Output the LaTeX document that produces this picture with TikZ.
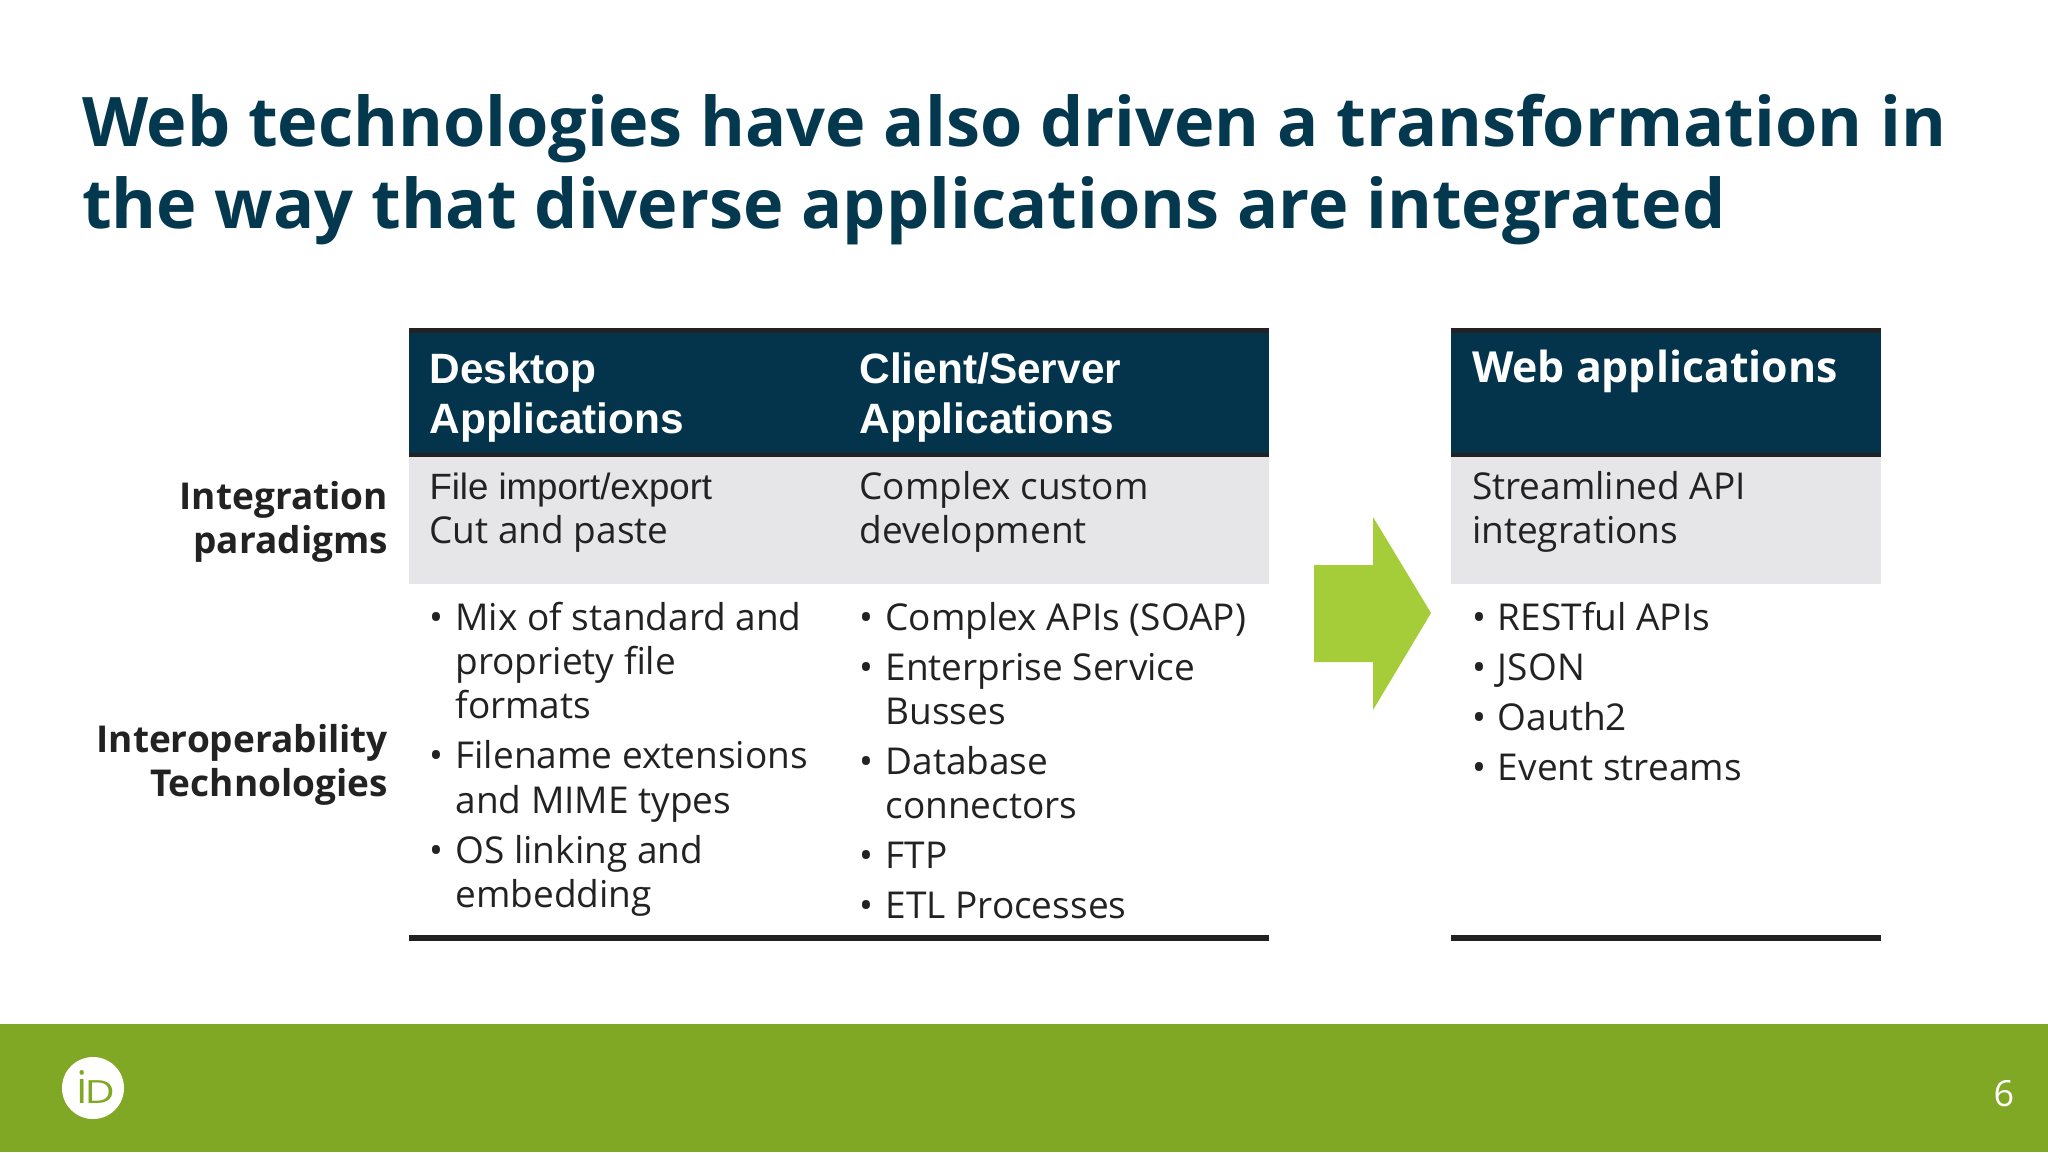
\documentclass[tikz,border=0pt]{standalone}
\usepackage{fontspec}
\usepackage{graphicx}
\setmainfont{Open Sans}
\newfontfamily\arialf{Liberation Sans}
\definecolor{navy}{HTML}{03344B}
\definecolor{titleblue}{HTML}{04384F}
\definecolor{rowgrey}{HTML}{E6E6E9}
\definecolor{rulegrey}{HTML}{222222}
\definecolor{inktext}{HTML}{222222}
\definecolor{arrowgreen}{HTML}{A5CD39}
\definecolor{footgreen}{HTML}{80A824}
\newcommand{\firstrule}{\rule{0pt}{30pt}}
\newcommand{\bodyfont}{\fontsize{18.5pt}{22.2pt}\selectfont}
\newcommand{\headfont}{\arialf\bfseries\fontsize{21.2pt}{25pt}\selectfont}
\newcommand{\bitem}[1]{\par\hangindent=13pt\hangafter=1\noindent\makebox[13pt][l]{\textbullet}#1\par}
\newcommand{\fitem}[1]{\hangindent=13pt\hangafter=1\noindent\firstrule\makebox[13pt][l]{\textbullet}#1\par}
\tikzset{
  x=0.5pt,y=-0.5pt,
  block/.style={anchor=north west,inner sep=0pt,outer sep=0pt,yshift=30pt,align=left,text=inktext,font=\bodyfont},
  titletext/.style={block,text=titleblue,font=\bfseries\fontsize{34.2pt}{41pt}\selectfont},
  headtext/.style={block,text=white,font=\headfont},
  webhead/.style={block,text=white,font=\bfseries\fontsize{21.4pt}{25pt}\selectfont},
  sidelabel/.style={anchor=north east,inner sep=0pt,outer sep=0pt,yshift=30pt,align=right,text=inktext,font=\bfseries\fontsize{18.5pt}{22.2pt}\selectfont},
  listblock/.style={block,text width=#1,align=none},
}
\begin{document}
\begin{tikzpicture}
\useasboundingbox (0,0) rectangle (2048,1152);
\fill[white] (0,0) rectangle (2048,1152);
% footer
\fill[footgreen] (0,1024) rectangle (2048,1152);
\node[circle,fill=white,minimum size=31pt,inner sep=0pt] (logo) at (93,1088) {};
\node[anchor=base,inner sep=0pt,text=footgreen] (logotext) at (96,1103) {\fontsize{22.5pt}{22.5pt}\selectfont i\kern-1.8pt\fontsize{16pt}{16pt}\selectfont\scalebox{1.3}[1]{D}};
\node[anchor=base,inner sep=0pt,text=white,font=\fontsize{18pt}{20pt}\selectfont] (pagenum) at (2004,1106) {6};
% title
\node[titletext] (title) at (82,146) {\firstrule Web technologies have also driven a transformation in\\the way that diverse applications are integrated};
% table one
\fill[navy] (409,328) rectangle (1269,457);
\fill[rulegrey] (409,328) rectangle (1269,333);
\fill[rulegrey] (409,453) rectangle (1269,457);
\fill[rowgrey] (409,457) rectangle (1269,584);
\fill[rulegrey] (409,935) rectangle (1269,941);
% table two
\fill[navy] (1451,328) rectangle (1881,457);
\fill[rulegrey] (1451,328) rectangle (1881,333);
\fill[rulegrey] (1451,453) rectangle (1881,457);
\fill[rowgrey] (1451,457) rectangle (1881,584);
\fill[rulegrey] (1451,935) rectangle (1881,941);
% arrow
\fill[arrowgreen] (1314,565) -- (1373,565) -- (1373,517) -- (1431,613) -- (1373,710) -- (1373,662) -- (1314,662) -- cycle;
% headers
\node[headtext] (hdesk) at (429.5,383) {\firstrule Desktop\\Applications};
\node[headtext] (hclient) at (859.5,383) {\firstrule Client/Server\\Applications};
\node[webhead] (hweb) at (1472,382) {\firstrule Web applications};
% grey row
\node[block,font=\arialf\fontsize{18.3pt}{22.2pt}\selectfont] (file) at (429.5,499) {\firstrule File import/export};
\node[block] (cut) at (429.5,543) {\firstrule Cut and paste};
\node[block] (complex) at (859.5,499) {\firstrule Complex custom\\development};
\node[block] (stream) at (1472,499) {\firstrule Streamlined API\\integrations};
% side labels
\node[sidelabel] (integ) at (388,509) {\firstrule Integration\\paradigms};
\node[sidelabel] (interop) at (388,752) {\firstrule Interoperability\\Technologies};
% lists
\node[listblock=210pt] (l1) at (429.5,630) {\setlength{\parskip}{2.8pt}%
\fitem{Mix of standard and\\propriety file\\formats}
\bitem{Filename extensions\\and MIME types}
\bitem{OS linking and\\embedding}};
\node[listblock=210pt] (l2) at (859.5,630) {\setlength{\parskip}{2.8pt}%
\fitem{Complex APIs (SOAP)}
\bitem{Enterprise Service\\Busses}
\bitem{Database\\connectors}
\bitem{FTP}
\bitem{ETL Processes}};
\node[listblock=210pt] (l3) at (1472,630) {\setlength{\parskip}{2.8pt}%
\fitem{RESTful APIs}
\bitem{JSON}
\bitem{Oauth2}
\bitem{Event streams}};
\end{tikzpicture}
\end{document}
